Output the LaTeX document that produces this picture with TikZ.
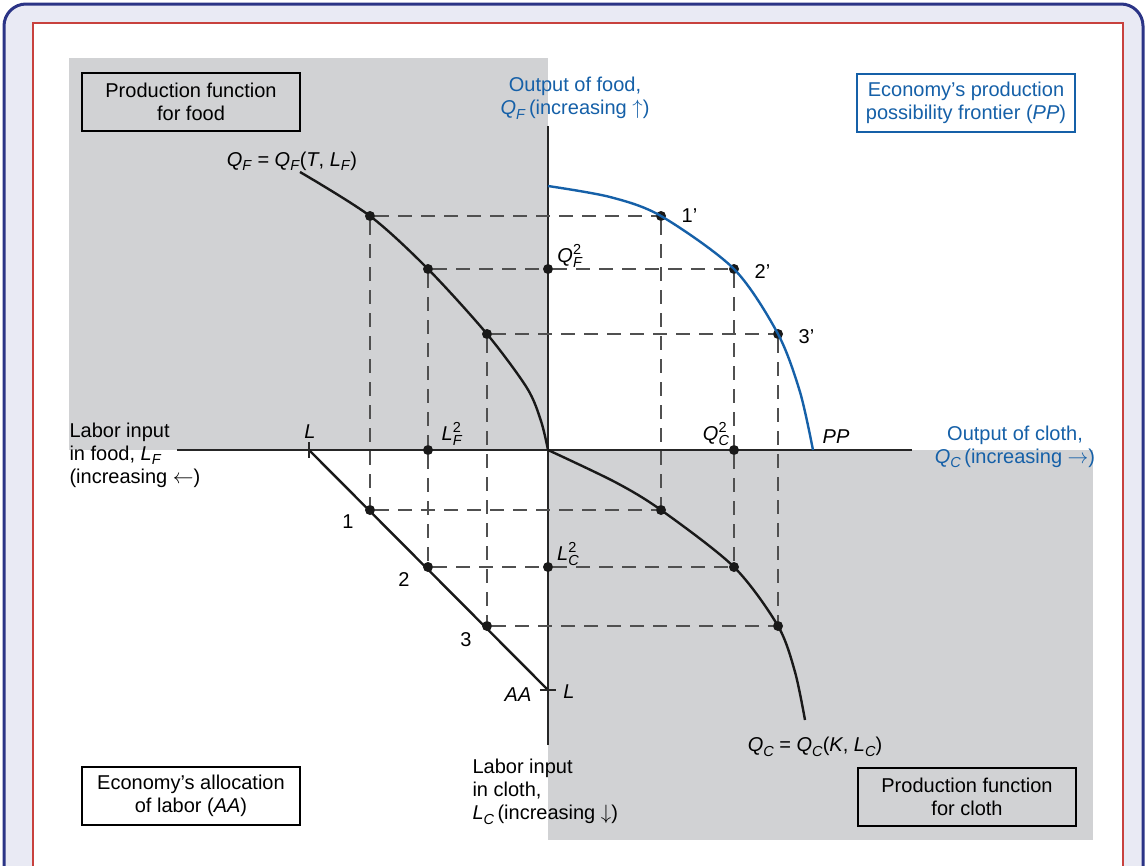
\documentclass[tikz,border=0pt]{standalone}
\usepackage{amsmath}
\usepackage{fontspec}
\setmainfont{Liberation Sans}
\usepackage{xcolor}
\usetikzlibrary{arrows.meta,positioning,calc}

\definecolor{frameblue}{HTML}{2B3486}
\definecolor{framered}{HTML}{C8413E}
\definecolor{lavender}{HTML}{E9EAF4}
\definecolor{shadegray}{HTML}{D1D2D4}
\definecolor{ppblue}{HTML}{1560A8}
\definecolor{guidegray}{HTML}{505050}

\newcommand{\smallfnt}{\fontsize{14.5}{14.5}\selectfont}
\newcommand{\vsub}[2]{\textit{#1}\raisebox{-4.5pt}{\smallfnt\textit{#2}}}
\newcommand{\vsubsup}[3]{\textit{#1}\rlap{\raisebox{8pt}{\smallfnt #3}}\raisebox{-4.5pt}{\smallfnt\textit{#2}}}

\begin{document}
\begin{tikzpicture}[x=1pt, y=-1pt, every node/.style={align=center, font=\fontsize{20}{23}\selectfont}, node distance=10pt]
\tikzset{
  box/.style={draw, line width=2pt, minimum width=218pt, minimum height=58pt, inner sep=2pt},
  dot/.style={circle, fill=black!90, inner sep=0pt, minimum size=10pt},
  axis/.style={line width=2.4pt, black!85},
  curve/.style={line width=2.4pt, black!90},
  ppf/.style={line width=2.4pt, ppblue},
  guide/.style={line width=1.4pt, guidegray, dash pattern=on 14pt off 9pt},
  tickmark/.style={line width=1.2pt, black!85},
  bluetext/.style={text=ppblue}
}
\useasboundingbox (0,0) rectangle (1147,865);
\clip (0,0) rectangle (1147,865);

% frame and quadrants
\draw[frameblue, line width=3pt, fill=lavender, rounded corners=22pt] (4,4) rectangle (1143,900);
\draw[framered, line width=2.5pt, fill=white] (33,23) rectangle (1123,900);
\fill[shadegray] (69,58) rectangle (548,450);
\fill[shadegray] (548,450) rectangle (1093,840);

% axes
\coordinate (O) at (548,450);
\coordinate (xw) at (177,450);
\coordinate (xe) at (912,450);
\coordinate (yn) at (548,126);
\coordinate (ys) at (548,745);
\draw[axis] (xw) -- (xe);
\draw[axis] (yn) -- (ys);

% points
\node[dot] (f1) at (370,216) {};
\node[dot] (f2) at (428,269) {};
\node[dot] (f3) at (487,334) {};
\node[dot] (p1) at (661,216) {};
\node[dot] (p2) at (734,269) {};
\node[dot] (p3) at (778,334) {};
\node[dot] (a1) at (370,510) {};
\node[dot] (a2) at (428,567) {};
\node[dot] (a3) at (487,626) {};
\node[dot] (c1) at (661,510) {};
\node[dot] (c2) at (734,567) {};
\node[dot] (c3) at (778,626) {};
\node[dot] (qf2) at (548,269) {};
\node[dot] (lf2) at (428,450) {};
\node[dot] (qc2) at (734,450) {};
\node[dot] (lc2) at (548,567) {};

% dashed guides
\draw[guide] (f1) -- (p1);
\draw[guide] (f2) -- (qf2) -- (p2);
\draw[guide] (f3) -- (p3);
\draw[guide] (a1) -- (c1);
\draw[guide] (a2) -- (lc2) -- (c2);
\draw[guide] (a3) -- (c3);
\draw[guide] (f1) -- (a1);
\draw[guide] (f2) -- (lf2) -- (a2);
\draw[guide] (f3) -- (a3);
\draw[guide] (p1) -- (c1);
\draw[guide] (p2) -- (qc2) -- (c2);
\draw[guide] (p3) -- (c3);

% curves
\coordinate (qfend) at (300,172);
\coordinate (qcend) at (805,720);
\coordinate (ppn) at (548,186);
\coordinate (ppe) at (813,450);
\draw[curve] plot[smooth, tension=0.5] coordinates {(qfend) (f1.center) (f2.center) (f3.center) (527,388) (541,421) (O)};
\draw[curve] plot[smooth, tension=0.5] coordinates {(O) (615,482) (c1.center) (c2.center) (c3.center) (795,672) (qcend)};
\draw[ppf] plot[smooth, tension=0.5] coordinates {(ppn) (610,197) (p1.center) (p2.center) (p3.center) (800,392) (ppe)};

% allocation line
\coordinate (Lf) at (309,450);
\coordinate (Lc) at (548,690);
\draw[curve] (Lf) -- (Lc);
\draw[tickmark] ($(Lf)+(0,-8)$) -- ($(Lf)+(0,8)$);
\draw[tickmark] ($(Lc)+(-8,0)$) -- ($(Lc)+(8,0)$);

% point labels
\node[right=12pt of p1, anchor=west] (p1lab) {1'};
\node[right=12pt of p2, anchor=west, yshift=-3pt] (p2lab) {2'};
\node[right=12pt of p3, anchor=west, yshift=-3pt] (p3lab) {3'};
\node at (348,522) (a1lab) {1};
\node at (404,580) (a2lab) {2};
\node at (466,640) (a3lab) {3};
\node at (310,432) (Lflab) {\textit{L}};
\node at (569,692) (Lclab) {\textit{L}};
\node at (518,695) (aalab) {\textit{AA}};
\node at (836,437) (pplab) {\textit{PP}};
\node at (452,434) (lf2lab) {\vsubsup{L}{F}{2}};
\node at (716,434) (qc2lab) {\vsubsup{Q}{C}{2}};
\node at (570,256) (qf2lab) {\vsubsup{Q}{F}{2}};
\node at (568,554) (lc2lab) {\vsubsup{L}{C}{2}};
\node at (292,161) (qflab) {\vsub{Q}{F} = \vsub{Q}{F}(\textit{T}, \vsub{L}{F})};
\node at (815,747) (qclab) {\vsub{Q}{C} = \vsub{Q}{C}(\textit{K}, \vsub{L}{C})};

% axis labels
\node[bluetext] at (575,98) (qfaxis) {Output of food,\\\vsub{Q}{F}\,(increasing $\uparrow$)};
\node[bluetext] at (1015,447) (qcaxis) {Output of cloth,\\\vsub{Q}{C}\,(increasing $\rightarrow$)};
\node[align=left, anchor=west] at (66,455) (lfaxis) {Labor input\\in food, \vsub{L}{F}\\(increasing $\leftarrow$)};
\node[align=left, anchor=west] at (469,792) (lcaxis) {Labor input\\in cloth,\\\vsub{L}{C}\,(increasing $\downarrow$)};

% boxes
\node[box] at (191,102) (foodbox) {Production function\\for food};
\node[box, draw=ppblue, fill=white, text=ppblue] at (966,103) (ppbox) {Economy's production\\possibility frontier (\textit{PP})};
\node[box, fill=white] at (191,796) (aabox) {Economy's allocation\\of labor (\textit{AA})};
\node[box] at (967,797) (clothbox) {Production function\\for cloth};
\end{tikzpicture}
\end{document}
